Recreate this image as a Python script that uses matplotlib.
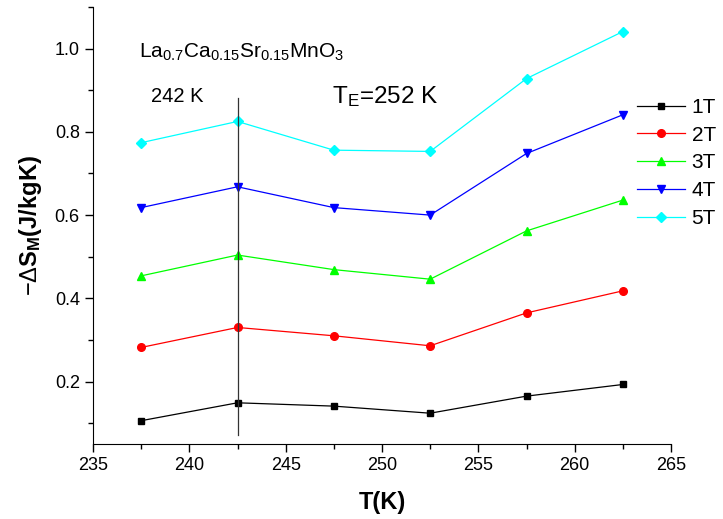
import matplotlib
matplotlib.use('Agg')
import matplotlib.pyplot as plt
from matplotlib.ticker import MultipleLocator, FormatStrFormatter

plt.rcParams['font.family'] = ['Liberation Sans', 'DejaVu Sans']
plt.rcParams['mathtext.fontset'] = 'custom'
plt.rcParams['mathtext.rm'] = 'Liberation Sans'
plt.rcParams['mathtext.it'] = 'Liberation Sans'
plt.rcParams['mathtext.bf'] = 'Liberation Sans:bold'

# Data: magnetic entropy change vs temperature for several fields
temperature = [237.5, 242.5, 247.5, 252.5, 257.5, 262.5]
ds_1t = [0.106, 0.149, 0.141, 0.124, 0.165, 0.193]
ds_2t = [0.282, 0.330, 0.310, 0.286, 0.365, 0.418]
ds_3t = [0.454, 0.504, 0.469, 0.446, 0.562, 0.636]
ds_4t = [0.618, 0.668, 0.618, 0.600, 0.748, 0.841]
ds_5t = [0.774, 0.825, 0.756, 0.753, 0.928, 1.041]
field_labels = ['1T', '2T', '3T', '4T', '5T']

series = [ds_1t, ds_2t, ds_3t, ds_4t, ds_5t]
colors = ['black', 'red', '#00ff00', 'blue', 'cyan']
markers = ['s', 'o', '^', 'v', 'D']
sizes = [5, 5.5, 6, 6, 5]

fig = plt.figure(figsize=(7.23, 5.19), dpi=100)
ax = fig.add_axes([93 / 723, 75 / 519, 578 / 723, 437 / 519])

for ys, c, m, s, lab in zip(series, colors, markers, sizes, field_labels):
    ax.plot(temperature, ys, color=c, marker=m, markersize=s, linewidth=0.9,
            label=lab)

# marker line at 242 K
ax.plot([242.5, 242.5], [0.072, 0.882], color='#333333', linewidth=0.9)

ax.set_xlim(235, 265)
ax.set_ylim(0.05, 1.10)
ax.xaxis.set_major_locator(MultipleLocator(5))
ax.xaxis.set_minor_locator(MultipleLocator(2.5))
ax.yaxis.set_minor_locator(MultipleLocator(0.1))
ax.set_yticks([0.2, 0.4, 0.6, 0.8, 1.0])
ax.yaxis.set_major_formatter(FormatStrFormatter('%.1f'))
ax.tick_params(which='major', direction='out', length=6, width=1, labelsize=13)
ax.tick_params(which='minor', direction='out', length=3.5, width=1)
ax.spines['top'].set_visible(False)
ax.spines['right'].set_visible(False)

ax.set_xlabel('T(K)', fontsize=17, fontweight='bold', labelpad=12)
ax.set_ylabel(r'$-\Delta \mathbf{S}_{\mathbf{M}}$(J/kgK)', fontsize=17,
              fontweight='bold', labelpad=8)

ax.text(237.4, 0.99, r'La$_{0.7}$Ca$_{0.15}$Sr$_{0.15}$MnO$_3$', fontsize=15,
        ha='left', va='center')
ax.text(238.0, 0.885, '242 K', fontsize=14.5, ha='left', va='center')
ax.text(247.4, 0.885, r'T$_{\rm E}$=252 K', fontsize=17.5, ha='left',
        va='center')

ax.legend(loc='upper left', bbox_to_anchor=(0.942, 0.792), frameon=False,
          fontsize=15, handlelength=2.3, handletextpad=0.3, labelspacing=0.42,
          borderaxespad=0, borderpad=0)

fig.savefig('out.png', dpi=100)
